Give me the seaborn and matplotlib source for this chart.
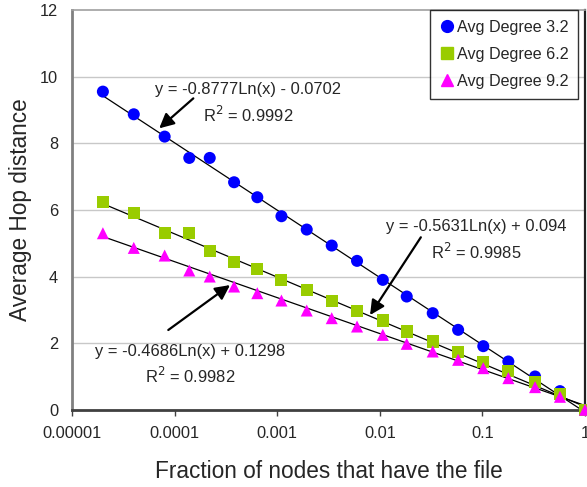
import numpy as np
import pandas as pd
import matplotlib
matplotlib.use("Agg")
import matplotlib.pyplot as plt
import seaborn as sns
from matplotlib.lines import Line2D

# ---- data ----
x_frac = [2e-5, 4e-5, 8e-5, 1.39e-4, 2.2e-4, 3.8e-4, 6.4e-4, 1.1e-3, 1.94e-3,
          3.4e-3, 6.0e-3, 1.07e-2, 1.83e-2, 3.28e-2, 5.8e-2, 1.02e-1, 1.79e-1,
          3.26e-1, 5.7e-1, 1.0]
deg32 = [9.55, 8.87, 8.20, 7.56, 7.56, 6.83, 6.38, 5.81, 5.41, 4.93, 4.47, 3.90,
         3.40, 2.90, 2.40, 1.91, 1.45, 1.00, 0.56, 0.0]
deg62 = [6.25, 5.90, 5.31, 5.31, 4.78, 4.45, 4.23, 3.89, 3.60, 3.28, 2.97, 2.68,
         2.35, 2.05, 1.73, 1.43, 1.15, 0.82, 0.48, 0.0]
deg92 = [5.30, 4.86, 4.63, 4.18, 4.00, 3.70, 3.50, 3.28, 2.98, 2.75, 2.50, 2.25,
         1.98, 1.75, 1.50, 1.25, 0.95, 0.68, 0.39, 0.0]
series_names = ["Avg Degree 3.2", "Avg Degree 6.2", "Avg Degree 9.2"]
fit_slope = [-0.8777, -0.5631, -0.4686]
fit_icept = [-0.0702, 0.094, 0.1298]
fit_r2 = [0.9992, 0.9985, 0.9982]
x_ticks = [1e-5, 1e-4, 1e-3, 1e-2, 1e-1, 1]
x_ticklabels = ["0.00001", "0.0001", "0.001", "0.01", "0.1", "1"]
y_ticks = [0, 2, 4, 6, 8, 10, 12]

colors = ["#0000FF", "#99CC00", "#FF00FF"]
markers = ["o", "s", "^"]

df = pd.DataFrame({
    "x": x_frac * 3,
    "y": deg32 + deg62 + deg92,
    "series": sum([[n] * len(x_frac) for n in series_names], []),
})

sns.set_style("white")
plt.rcParams["font.family"] = ["Liberation Sans", "DejaVu Sans"]

fig = plt.figure(figsize=(5.87, 4.87), dpi=100)
ax = fig.add_axes([72 / 587, 1 - 409.8 / 487, (585 - 72) / 587, (409.8 - 10) / 487])

ax.set_xscale("log")
ax.set_xlim(1e-5, 1)
ax.set_ylim(0, 12)

# gridlines
for yv in y_ticks[1:-1]:
    ax.axhline(yv, color="#c8c8c8", lw=1.0, zorder=0)

# trend lines
xl = np.logspace(np.log10(min(x_frac)), 0, 200)
for s, b in zip(fit_slope, fit_icept):
    ax.plot(xl, s * np.log(xl) + b, color="black", lw=0.9, zorder=2)

sns.scatterplot(data=df, x="x", y="y", hue="series", style="series",
                palette=dict(zip(series_names, colors)),
                markers=dict(zip(series_names, markers)),
                s=75, edgecolor="none", linewidth=0, legend=False, ax=ax,
                zorder=3, clip_on=False)

ax.set_xticks(x_ticks)
ax.set_xticklabels(x_ticklabels)
ax.minorticks_off()
ax.set_yticks(y_ticks)
ax.tick_params(axis="x", length=4, width=1, color="#404040", pad=8,
               labelsize=11.8, direction="out", bottom=True)
ax.tick_params(axis="y", length=0, pad=10, labelsize=11.8, left=True)

ax.set_xlabel("Fraction of nodes that have the file", fontsize=16.3, labelpad=13)
ax.set_ylabel("Average Hop distance", fontsize=16.3, labelpad=6)

for side, c, w in [("left", "#808080", 2.0), ("bottom", "#404040", 2.0),
                   ("top", "#a0a0a0", 1.2), ("right", "#202020", 1.6)]:
    ax.spines[side].set_visible(True)
    ax.spines[side].set_color(c)
    ax.spines[side].set_linewidth(w)

# equations + arrows
eq_pos = [(0.343, 0.800), (0.7875, 0.458), (0.231, 0.147)]
arrows = [((0.2365, 0.779), (0.170, 0.704)),
          ((0.680, 0.4315), (0.581, 0.237)),
          ((0.1877, 0.1996), (0.308, 0.312))]
for s, b, r2, (ex, ey), (tail, tip) in zip(fit_slope, fit_icept, fit_r2, eq_pos, arrows):
    sign = "-" if b < 0 else "+"
    ax.text(ex, ey, f"y = {s:g}Ln(x) {sign} {abs(b):g}", transform=ax.transAxes,
            ha="center", va="center", fontsize=11.9)
    ax.text(ex, ey - 0.062, f"R$^2$ = {r2:g}", transform=ax.transAxes,
            ha="center", va="center", fontsize=11.9)
    ax.annotate("", xy=tip, xytext=tail, xycoords="axes fraction",
                textcoords="axes fraction",
                arrowprops=dict(arrowstyle="-|>", mutation_scale=22, lw=1.6,
                                color="black", shrinkA=0, shrinkB=0))

handles = [Line2D([], [], marker=m, color=c, linestyle="none", markersize=8.5)
           for m, c in zip(markers, colors)]
leg = ax.legend(handles, series_names, loc="upper right",
                bbox_to_anchor=(0.987, 1.0), borderaxespad=0, fancybox=False,
                frameon=True, fontsize=11.6, handletextpad=0.1, handlelength=1.0,
                labelspacing=0.75, borderpad=0.6, edgecolor="black")
leg.get_frame().set_linewidth(1.0)

fig.savefig("out.png", dpi=100)
